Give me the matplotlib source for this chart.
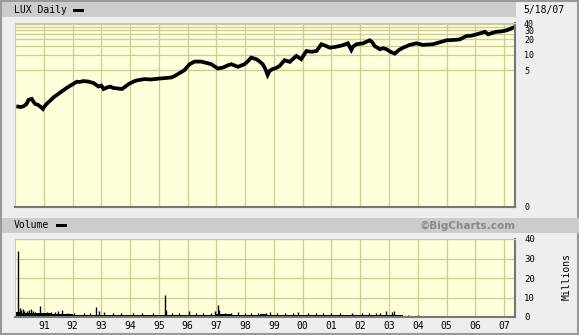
import matplotlib
matplotlib.use("Agg")
import matplotlib.pyplot as plt
from matplotlib.patches import Rectangle

# price line (decimal year, price)
price_years = [
    1990.11, 1990.20, 1990.29, 1990.40, 1990.47, 1990.58, 1990.64, 1990.70,
    1990.80, 1990.87, 1990.97, 1991.03, 1991.10, 1991.22, 1991.34, 1991.50,
    1991.69, 1991.80, 1991.92, 1992.05, 1992.15, 1992.25, 1992.38, 1992.55,
    1992.73, 1992.90, 1993.00, 1993.08, 1993.20, 1993.31, 1993.42, 1993.54,
    1993.71, 1993.82, 1993.95, 1994.18, 1994.35, 1994.50, 1994.70, 1994.85,
    1995.05, 1995.20, 1995.43, 1995.55, 1995.66, 1995.89, 1996.07, 1996.24,
    1996.47, 1996.65, 1996.82, 1997.05, 1997.23, 1997.40, 1997.52, 1997.75,
    1997.98, 1998.10, 1998.21, 1998.39, 1998.50, 1998.61, 1998.70, 1998.78,
    1998.85, 1998.95, 1999.08, 1999.20, 1999.37, 1999.55, 1999.66, 1999.78,
    1999.95, 2000.05, 2000.13, 2000.30, 2000.48, 2000.65, 2000.80, 2000.94,
    2001.10, 2001.29, 2001.45, 2001.57, 2001.69, 2001.75, 2001.87, 2002.10,
    2002.33, 2002.42, 2002.50, 2002.68, 2002.80, 2002.91, 2003.05, 2003.20,
    2003.35, 2003.49, 2003.70, 2003.95, 2004.18, 2004.35, 2004.53, 2004.75,
    2005.00, 2005.25, 2005.46, 2005.69, 2005.85, 2006.04, 2006.20, 2006.33,
    2006.45, 2006.60, 2006.74, 2006.90, 2007.08, 2007.20, 2007.29, 2007.37,
]
prices = [
    1.00, 0.98, 1.01, 1.12, 1.35, 1.41, 1.25, 1.13,
    1.08, 1.01, 0.90, 1.02, 1.13, 1.30, 1.51, 1.75,
    2.09, 2.30, 2.54, 2.80, 3.03, 3.00, 3.12, 3.05,
    2.86, 2.45, 2.55, 2.19, 2.35, 2.43, 2.30, 2.25,
    2.19, 2.40, 2.73, 3.16, 3.30, 3.41, 3.35, 3.41,
    3.50, 3.56, 3.66, 3.90, 4.26, 5.08, 6.62, 7.43,
    7.43, 7.02, 6.62, 5.46, 5.70, 6.30, 6.62, 5.88,
    6.62, 7.60, 8.87, 8.26, 7.50, 6.62, 5.40, 4.10,
    4.90, 5.31, 5.60, 6.14, 7.91, 7.33, 8.40, 9.56,
    8.26, 10.2, 11.9, 11.5, 11.9, 16.1, 15.0, 13.8,
    14.2, 14.9, 15.8, 16.8, 12.5, 14.5, 16.1, 16.8,
    19.2, 17.5, 14.9, 12.9, 13.5, 12.9, 11.5, 10.6,
    12.5, 13.8, 15.5, 16.8, 15.6, 15.9, 16.1, 17.5,
    19.2, 19.5, 20.0, 23.2, 23.5, 25.0, 26.5, 28.1,
    25.0, 26.8, 28.1, 28.5, 29.9, 31.5, 33.5, 34.5,
]

# volume (millions): quarterly base level plus the visible spikes
base_quarters = [1990 + 0.25 * i for i in range(70)]
base_volume = [
    2.5, 2.2, 2.0, 1.8,
    1.8, 1.5, 1.5, 1.3,
    1.2, 1.1, 1.2, 1.2,
    1.2, 1.0, 1.0, 1.0,
    1.0, 1.0, 1.0, 1.0,
    1.2, 1.1, 1.0, 1.1,
    1.1, 1.1, 1.2, 1.2,
    1.4, 1.3, 1.2, 1.2,
    1.2, 1.2, 1.4, 1.2,
    1.2, 1.2, 1.2, 1.1,
    1.1, 1.0, 1.0, 1.0,
    1.0, 0.9, 1.0, 0.9,
    0.9, 1.0, 1.0, 1.0,
    1.0, 1.0, 0.4, 0.3,
    0.3, 0.3, 0.3, 0.3,
    0.3, 0.3, 0.3, 0.3,
    0.2, 0.2, 0.2, 0.2,
    0.2, 0.2,
]
spike_years = [
    1990.10, 1990.17, 1990.22, 1990.27, 1990.33, 1990.40, 1990.48, 1990.55,
    1990.62, 1990.70, 1990.87, 1991.10, 1991.25, 1991.38, 1991.50, 1991.62,
    1991.80, 1992.05, 1992.40, 1992.60, 1992.80, 1992.92, 1993.10, 1993.40,
    1993.70, 1994.10, 1994.40, 1994.80, 1995.20, 1995.25, 1995.45, 1995.70,
    1996.05, 1996.30, 1996.55, 1996.80, 1996.95, 1997.05, 1997.10, 1997.30,
    1997.50, 1997.75, 1998.00, 1998.20, 1998.45, 1998.72, 1998.85, 1999.10,
    1999.40, 1999.65, 1999.85, 2000.20, 2000.45, 2000.70, 2001.00, 2001.30,
    2001.70, 2002.05, 2002.30, 2002.55, 2002.70, 2002.88, 2003.10, 2003.17,
    2003.65, 2004.00, 2004.42, 2005.10,
]
spike_volume = [
    34.0, 4.8, 3.5, 4.0, 3.2, 3.0, 3.5, 4.0,
    3.0, 2.5, 5.6, 2.5, 2.8, 2.4, 3.2, 3.6,
    2.3, 2.2, 2.2, 2.0, 5.3, 3.0, 2.6, 2.0,
    2.2, 2.0, 1.8, 2.0, 11.1, 3.6, 2.0, 2.0,
    3.0, 2.0, 1.8, 2.2, 3.0, 6.0, 3.8, 2.0,
    2.3, 2.5, 2.0, 2.0, 2.2, 2.3, 2.8, 2.0,
    2.0, 2.2, 2.8, 1.9, 2.0, 1.8, 1.9, 1.8,
    1.8, 2.0, 1.9, 2.0, 2.2, 3.2, 2.6, 3.2,
    0.9, 0.8, 0.7, 0.6,
]

year_ticks = list(range(1991, 2008))
year_labels = [f"{y % 100:02d}" for y in year_ticks]
price_ticks = [5, 10, 20, 30, 40]
price_grid = [5, 10, 15, 20, 25, 30, 35, 40]
volume_ticks = [0, 10, 20, 30, 40]

W, H = 579, 335
BG = "#eeeeee"
BAND = "#cccccc"
PLOT_BG = "#ffffd9"
GRID = "#cccc99"
FONT = "DejaVu Sans Mono"

fig = plt.figure(figsize=(W / 100, H / 100), dpi=100, facecolor=BG)


def px_rect(x0, y0, x1, y1, **kw):
    fig.patches.append(Rectangle((x0 / W, 1 - y1 / H), (x1 - x0) / W, (y1 - y0) / H,
                                 transform=fig.transFigure, **kw))


def px_text(x, y, s, **kw):
    fig.text(x / W, 1 - y / H, s, family=FONT, fontsize=7, va="center", **kw)


def axes_px(x0, y0, x1, y1):
    return fig.add_axes([x0 / W, 1 - y1 / H, (x1 - x0) / W, (y1 - y0) / H])


def style_axes(ax):
    ax.set_facecolor(PLOT_BG)
    for side in ["left", "top"]:
        ax.spines[side].set_color(GRID)
        ax.spines[side].set_linewidth(0.8)
    for side in ["right", "bottom"]:
        ax.spines[side].set_color("#777777")
        ax.spines[side].set_linewidth(1.5)
    ax.set_xlim(1990.0, 2007.38)
    ax.set_xticks(year_ticks)
    ax.grid(True, color=GRID, linewidth=0.9)
    ax.set_axisbelow(True)
    ax.yaxis.tick_right()
    ax.tick_params(length=0, width=0, labelsize=6.5, pad=6.5)


# background frame and title bands
px_rect(0.5, 0.5, W - 1.5, H - 1.5, facecolor="none", edgecolor="#999999", lw=1.5)
px_rect(2, 2, 516, 17, facecolor=BAND, edgecolor="none")
px_rect(2, 218, W, 233, facecolor=BAND, edgecolor="none")

# price panel
ax = axes_px(15, 23, 515, 207)
style_axes(ax)
ax.set_yscale("log")
ax.set_ylim(0.0114, 41.5)
ax.yaxis.set_minor_locator(matplotlib.ticker.NullLocator())
ax.set_yticks([0.0114] + price_ticks)
ax.set_yticklabels(["0"] + [str(t) for t in price_ticks], family=FONT, fontsize=6)
ax.grid(False, axis="y")
for v in price_grid:
    ax.axhline(v, color=GRID, linewidth=0.9, zorder=0.5)
ax.set_xticklabels([])
ax.plot(price_years, prices, color="black", linewidth=2.7, solid_joinstyle="miter")

# volume panel
vax = axes_px(15, 239, 515, 317)
style_axes(vax)
vax.set_ylim(0, 40)
vax.set_yticks(volume_ticks)
vax.set_yticklabels([str(t) for t in volume_ticks], family=FONT)
vax.set_xticklabels(year_labels, family=FONT, fontsize=7)
vax.tick_params(axis="x", pad=3)
vax.bar(base_quarters, base_volume, width=0.25, align="edge", color="black", linewidth=0)
vax.vlines(spike_years, 0, spike_volume, color="black", linewidth=1.0)

# texts
px_text(14, 10, "LUX Daily")
px_rect(73, 8.5, 84, 11.5, facecolor="black", edgecolor="none")
px_text(523, 10, "5/18/07")
px_text(14, 225.5, "Volume")
px_rect(56, 224, 67, 227, facecolor="black", edgecolor="none")
fig.text(516 / W, 1 - 225.5 / H, "\u00a9BigCharts.com", ha="right", va="center",
         fontsize=7.5, fontweight="bold", color="#888888", family="DejaVu Sans")
fig.text(567 / W, 1 - 277 / H, "Millions", rotation=90, ha="center", va="center",
         fontsize=7, family=FONT)

fig.savefig("out.png", dpi=100, facecolor=BG)
